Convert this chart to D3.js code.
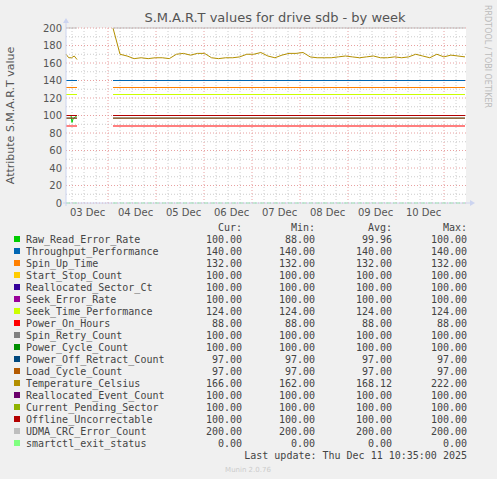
<!DOCTYPE html>
<html><head><meta charset="utf-8">
<script src="https://cdn.jsdelivr.net/npm/d3@7"></script>
<style>body{margin:0;background:#f0f0f0}</style>
</head><body><div id="chart"></div>
<script>
const names = ['Raw_Read_Error_Rate','Throughput_Performance','Spin_Up_Time','Start_Stop_Count','Reallocated_Sector_Ct','Seek_Error_Rate','Seek_Time_Performance','Power_On_Hours','Spin_Retry_Count','Power_Cycle_Count','Power_Off_Retract_Count','Load_Cycle_Count','Temperature_Celsius','Reallocated_Event_Count','Current_Pending_Sector','Offline_Uncorrectable','UDMA_CRC_Error_Count','smartctl_exit_status'];
const colors = ['#00cc00','#0066b3','#ff8000','#ffcc00','#330099','#990099','#ccff00','#ff0000','#808080','#008f00','#00487d','#b35a00','#b38f00','#6b006b','#8fb300','#b30000','#bebebe','#80ff80'];
const cur = [100,140,132,100,100,100,124,88,100,100,97,97,166,100,100,100,200,0];
const mins = [88,140,132,100,100,100,124,88,100,100,97,97,162,100,100,100,200,0];
const avgs = [99.96,140,132,100,100,100,124,88,100,100,97,97,168.12,100,100,100,200,0];
const maxs = [100,140,132,100,100,100,124,88,100,100,97,97,222,100,100,100,200,0];
// hours since 2025-12-02 00:00
const seg1 = [25.5, 31];
const seg2 = [49, 225];
const tempSeg1 = [170,166,166,168,164];
const tempSeg2 = [200,170,168,165,166,165,166,166,165,170,171,169,171,171,166,165,166,166,167,170,170,172,168,166,169,171,171,172,167,166,166,166,167,168,167,166,167,168,166,166,167,166,167,170,168,166,170,167,169,168,167];
const dayLabels = ['03 Dec','04 Dec','05 Dec','06 Dec','07 Dec','08 Dec','09 Dec','10 Dec'];

const W = 497, H = 479;
const x0 = 66, x1 = 466, yTop = 28, yBot = 203;
const x = d3.scaleLinear().domain([25.5, 225.5]).range([x0, x1]);
const y = d3.scaleLinear().domain([0, 200]).range([yBot, yTop]);

const svg = d3.select('#chart').append('svg').attr('width', W).attr('height', H)
  .style('font-family', 'DejaVu Sans, sans-serif');
svg.append('rect').attr('width', W).attr('height', H).attr('fill', '#f0f0f0');
svg.append('rect').attr('x', x0).attr('y', yTop).attr('width', x1 - x0).attr('height', yBot - yTop).attr('fill', '#fff');

const g = svg.append('g');
const majorH = d3.range(46.5, 225.5, 24);
d3.range(28.5, 225.5, 6).forEach(h => {
  if ((h - 46.5) % 24 === 0) return;
  g.append('line').attr('x1', x(h)).attr('x2', x(h)).attr('y1', yTop).attr('y2', yBot)
    .attr('stroke', '#ccc').attr('stroke-dasharray', '1,2');
});
d3.range(10, 201, 20).forEach(v => {
  g.append('line').attr('x1', x0).attr('x2', x1).attr('y1', y(v)).attr('y2', y(v))
    .attr('stroke', '#ccc').attr('stroke-dasharray', '1,2');
});
majorH.forEach(h => {
  g.append('line').attr('x1', x(h)).attr('x2', x(h)).attr('y1', yTop).attr('y2', yBot)
    .attr('stroke', '#e8a0a0').attr('stroke-dasharray', '1,2');
});
d3.range(0, 201, 20).forEach(v => {
  g.append('line').attr('x1', x0).attr('x2', x1).attr('y1', y(v)).attr('y2', y(v))
    .attr('stroke', '#e8a0a0').attr('stroke-dasharray', '1,2');
});

const yAxis = d3.axisLeft(y).tickValues(d3.range(0, 201, 20)).tickSize(0).tickPadding(4);
svg.append('g').attr('transform', `translate(${x0},0)`).call(yAxis)
  .call(a => a.select('.domain').remove())
  .selectAll('text').attr('fill', '#555').style('font-size', '10px').style('font-family', 'DejaVu Sans, sans-serif');
const xAxis = d3.axisBottom(x).tickValues(dayLabels.map((d, i) => 36 + 24 * i))
  .tickFormat((d, i) => dayLabels[i]).tickSize(0).tickPadding(6);
svg.append('g').attr('transform', `translate(0,${yBot})`).call(xAxis)
  .call(a => a.select('.domain').remove())
  .selectAll('text').attr('fill', '#555').style('font-size', '10px').style('font-family', 'DejaVu Sans, sans-serif');

const line = d3.line().x(d => x(d[0])).y(d => y(d[1]));
const spread = (vals, [a, b]) => vals.map((v, i) => [a + i * (b - a) / (vals.length - 1), v]);
names.forEach((n, i) => {
  let s1, s2;
  if (i === 12) {
    s1 = spread(tempSeg1, seg1);
    s2 = spread(tempSeg2, seg2);
  } else if (i === 0) {
    s1 = [[25.5, 100], [28, 100], [28.5, 92], [29, 96], [31, 100]];
    s2 = [[seg2[0], cur[i]], [seg2[1], cur[i]]];
  } else {
    s1 = [[seg1[0], cur[i]], [seg1[1], cur[i]]];
    s2 = [[seg2[0], cur[i]], [seg2[1], cur[i]]];
  }
  [s1, s2].forEach(s => {
    g.append('path').attr('d', line(s)).attr('fill', 'none').attr('stroke', colors[i])
      .attr('stroke-width', 1).attr('stroke-dasharray', i === 17 ? '4,3' : null);
  });
});

svg.append('line').attr('x1', x0).attr('x2', x0).attr('y1', yTop - 6).attr('y2', yBot + 3).attr('stroke', '#ccd4f0');
svg.append('line').attr('x1', x0 - 3).attr('x2', x1 + 4).attr('y1', yBot).attr('y2', yBot).attr('stroke', '#ccd4f0');
svg.append('path').attr('d', `M${x0 - 3},${yTop - 5} L${x0 + 3},${yTop - 5} L${x0},${yTop - 10} Z`).attr('fill', '#ccd4f0');
svg.append('path').attr('d', `M${x1 + 4},${yBot - 3} L${x1 + 4},${yBot + 3} L${x1 + 9},${yBot} Z`).attr('fill', '#ccd4f0');

svg.append('text').attr('x', 275).attr('y', 22).attr('text-anchor', 'middle')
  .attr('fill', '#555').style('font-size', '13px').text('S.M.A.R.T values for drive sdb - by week');
svg.append('text').attr('transform', `translate(14,${(yTop + yBot) / 2}) rotate(-90)`)
  .attr('text-anchor', 'middle').attr('fill', '#555').style('font-size', '11px').text('Attribute S.M.A.R.T value');
svg.append('text').attr('transform', 'translate(485,5) rotate(90)')
  .attr('fill', '#bbb').style('font-size', '8px').text('RRDTOOL / TOBI OETIKER');

const mono = 'DejaVu Sans Mono, monospace';
const fs = '10px';
const cols = [242, 315, 392, 467];
const heads = ['Cur:', 'Min:', 'Avg:', 'Max:'];
heads.forEach((h, j) => svg.append('text').attr('x', cols[j]).attr('y', 231).attr('text-anchor', 'end')
  .attr('fill', '#444').style('font-family', mono).style('font-size', fs).text(h));
names.forEach((n, i) => {
  const yy = 243 + i * 12;
  svg.append('rect').attr('x', 14).attr('y', yy - 7).attr('width', 6).attr('height', 6).attr('fill', colors[i]);
  svg.append('text').attr('x', 26).attr('y', yy).attr('fill', '#444').style('font-family', mono)
    .style('font-size', fs).text(n);
  [cur[i], mins[i], avgs[i], maxs[i]].forEach((v, j) => svg.append('text').attr('x', cols[j]).attr('y', yy)
    .attr('text-anchor', 'end').attr('fill', '#444').style('font-family', mono).style('font-size', fs).text(v.toFixed(2)));
});
svg.append('text').attr('x', 467).attr('y', 459).attr('text-anchor', 'end').attr('fill', '#444')
  .style('font-family', mono).style('font-size', fs).text('Last update: Thu Dec 11 10:35:00 2025');
svg.append('text').attr('x', 248).attr('y', 472).attr('text-anchor', 'middle').attr('fill', '#ccc')
  .style('font-size', '7px').text('Munin 2.0.76');
</script></body></html>
